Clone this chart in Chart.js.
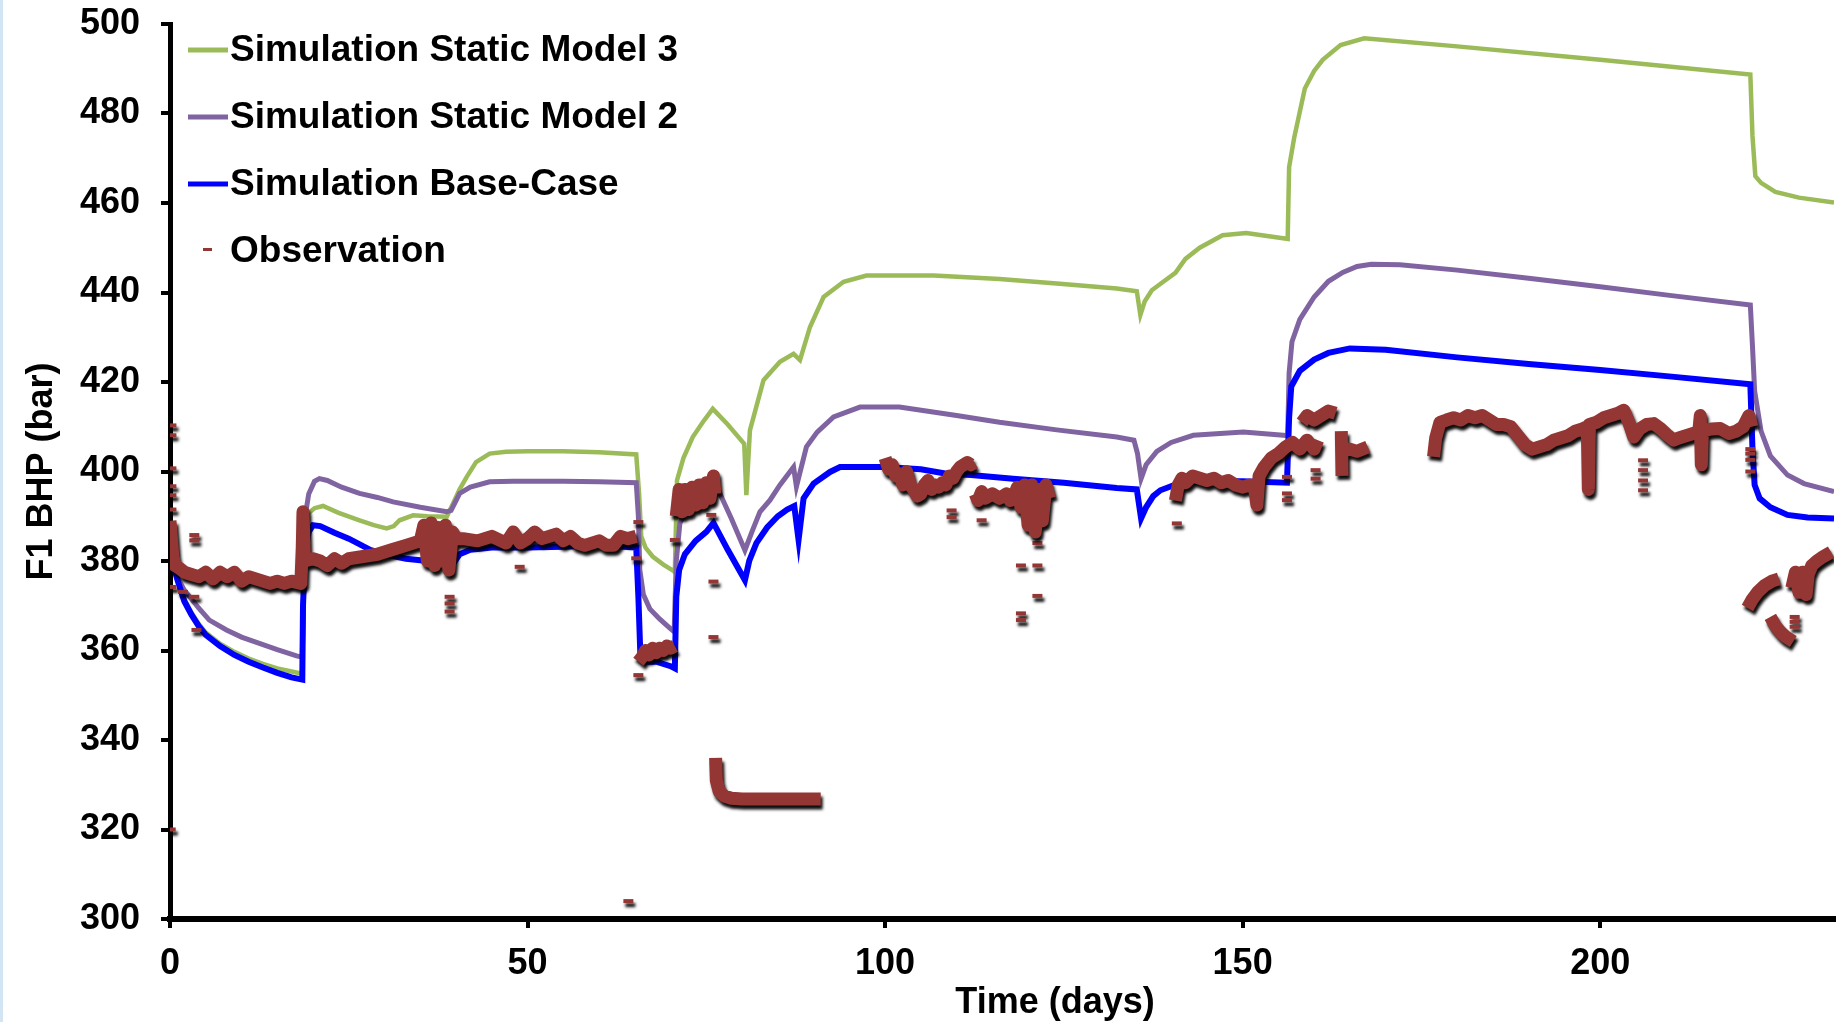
<!DOCTYPE html>
<html>
<head>
<meta charset="utf-8">
<title>F1 BHP</title>
<script src="https://cdn.jsdelivr.net/npm/chart.js@4.4.1/dist/chart.umd.min.js"></script>
<style>
    html, body { margin: 0; padding: 0; background: #fff; }
    #wrap { position: relative; width: 1843px; height: 1022px; }
    #bhpChart { display: block; }
    #edge { position: absolute; left: 0; top: 0; width: 3px; height: 1022px; background: #d3e4f5; }
</style>
</head>
<body>
<div id="wrap">
    <canvas id="bhpChart" width="1843" height="1022"></canvas>
    <div id="edge"></div>
</div>
<script>
// Axis ticks
const xTicks = [0, 50, 100, 150, 200];
const yTicks = [300, 320, 340, 360, 380, 400, 420, 440, 460, 480, 500];

// [day, bar]
const model3 = [[0,383],[0.5,379.5],[1,376.5],[2,371.5],[3,368.5],[4,366],[5,364],[7,361.5],[9,359.7],[11,358.2],[13,357],[15,356],[17,355.3],[18.5,354.8],
    [18.8,385],[19.3,390.6],[20.2,391.8],[21.4,392.3],[23.5,390.8],[26.5,389.1],[28.5,388],[30.3,387.3],[31.3,387.8],[32.1,389.1],[34,390.2],[36,390],[38.7,389.9],
    [39.6,392.9],[40.5,396],[41.5,398.8],[42.8,402.1],[44.7,404],[47,404.4],[50,404.5],[55,404.5],[60,404.3],[65.2,403.8],
    [65.6,395],[65.9,385.5],[66.5,383],[67.5,381],[69,379.2],[70.4,377.8],[70.6,377.5],
    [70.9,398],[71.8,403],[73.1,407.7],[74.5,411],[75.9,414],[78,410.5],[80.3,406.2],[80.6,394.7],[81.1,409.2],[83,420.4],[85.3,424.5],[87.2,426.3],[88.1,424.9],
    [89.5,432.3],[91.4,439],[94.2,442.4],[97.4,443.8],[106.8,443.8],[116,443],[124,442],[132.4,440.9],[135.2,440.3],[135.7,435],[136.3,438],[137.3,440.5],
    [139,442.5],[140.6,444.4],[142,447.5],[144,450],[147.2,452.8],[150.5,453.3],[155.4,452.2],[156.3,452],
    [156.5,468],[157.2,474.5],[158.7,485.6],[160,489.5],[161.2,492],[163.7,495.3],[167,496.8],[180,495],[200,492],[221,488.7],
    [221.3,475],[221.7,466],[222.5,464.5],[224.5,462.5],[227.8,461.2],[232.7,460.1]];

const model2 = [[0,383],[0.5,379.5],[1,376.5],[2,373.5],[3,371.5],[4,369.5],[5.5,366.8],[7.9,364.6],[10,363],[12.5,361.6],[15,360.2],[17.7,358.8],[18.5,358.5],
    [18.7,375],[18.9,390],[19.4,395],[20.2,397.8],[20.9,398.4],[22,398],[24,396.5],[26.5,395.1],[29,394.2],[31.2,393.2],[35,392],[38.7,391],
    [39.3,391.3],[40,393.5],[40.5,395.1],[42,396.5],[44.7,397.7],[48,397.8],[55,397.8],[60,397.7],[65.2,397.5],
    [65.5,390],[65.7,378],[66.2,372.5],[67.1,369.3],[68.5,367],[69.9,365],[70.5,364.2],
    [70.8,380],[71.3,388.4],[72.5,392.5],[74.5,395.5],[76.4,396.8],[78.5,389.5],[80.4,382.4],[81.5,387],[82.5,391],[83.9,393.6],[85.3,397],[87.2,401],[87.6,396.6],[89,405.5],
    [90.5,408.8],[92.8,412.2],[96.5,414.4],[102,414.4],[110,412.5],[116,411],[124,409.3],[132.4,407.7],[134.8,407],
    [135.3,404],[135.8,398.4],[136.5,401.5],[138,404.5],[140,406.5],[143.1,408.1],[150.1,408.8],[155.7,408.1],[156.3,408],
    [156.5,422],[156.9,429],[158,434],[160,439],[162,442.5],[164,444.5],[166,445.8],[168,446.3],[172,446.2],[180,445],[190,443.2],[200,441.3],[210,439.3],[221,437.2],
    [221.3,428],[221.6,418],[222.5,409],[223.8,403.5],[226.2,399.2],[228.5,397.3],[232.7,395.5]];

const baseCase = [[0,383],[0.5,379],[1,376],[2,371],[3,368],[4,365.5],[5,363.5],[7,361],[9,359],[11,357.5],[13,356.2],[15,355],[17,354],[18.5,353.5],
    [18.6,370],[18.9,382],[19.4,386.5],[20,388],[21,387.8],[23,386.3],[25,385],[28,382.5],[30,381.5],[33,380.5],[36,380],[39,379],
    [39.5,379.2],[40.5,381.5],[42,382.5],[45,383],[50,383],[55,383.2],[60,383.5],[65.2,383],
    [65.5,372],[65.8,358],[66.5,357.5],[68,357.5],[70,356.5],[70.6,356],
    [70.8,372],[71.2,378],[72,381.5],[73.5,384.5],[75,386.5],[76,388.5],[78,382.5],[80.4,375.7],[81,380],[82,384],[83.5,387.5],[85,390],[86.3,391.5],[87.3,392.3],[87.9,384.7],[88.6,394],
    [90,397.3],[92.3,399.9],[93.7,401],[100,401],[105,400.5],[108.6,399.5],[112,399.2],[117.9,398.4],[125,397.5],[132.4,396.3],[135.2,396],
    [135.8,389.5],[136.5,392],[137.5,394.5],[138.5,395.8],[141.3,397.5],[145,397.8],[150,397.8],[156.2,397.5],
    [156.5,412],[156.8,419],[158,422.5],[160,425],[162,426.5],[165,427.5],[170,427.2],[180,425.5],[190,424],[200,422.7],[210,421.2],[221,419.5],
    [221.3,405],[221.6,397],[222.3,394],[223.8,392],[226.2,390.3],[229,389.7],[232.7,389.5]];

// dense observation runs; [day, null] breaks a run
const obsRuns = [[0,389],[0.2,385],[0.4,381],[0.7,379],[1.2,378.5],[2,377.5],[3,377],[4,376.5],[5,377.5],[6,376],[7,377.5],[8,376.5],[9,377.5],[10,375.5],[11,376.5],[12,376],[13,375.5],[14,375],[15,375.5],[16,375],[17,375.5],[18.3,375],
    [18.5,383],[18.6,391],[18.8,380],[20,380.5],[21,380],[22,379],[23,380.5],[24,379.5],[25,380.5],[27,381],[29,381.5],[31,382.5],[33,383.5],[35,384.5],
    [35.5,388],[36,380],[36.5,388.5],[37,379],[37.5,387.5],[38,380],[38.5,388],[39,378],[39.5,386.5],[40,385],[41,385],[43,384.5],[45,385.5],[47,384],[48,386.5],[49,384],[50,385],
    [51,386.5],[52,385],[54,386],[55,384.5],[56,385.5],[57,384],[58,383.5],[59,384],[60,384.5],[61,383.5],[62,383.5],[63,385.5],[64,385],[65.2,385.5],
    [65.3,null],
    [65.5,357.5],[66,358.5],[66.5,360],[67,359],[67.5,360.5],[68,359.5],[68.5,360.5],[69,360],[69.5,361],[70,360.5],[70.6,361],
    [70.7,null],
    [70.8,390],[71.2,396],[71.6,391],[72,396],[72.5,391.5],[73,396.5],[73.5,392.5],[74,397],[74.5,393],[75,397.5],[75.5,394],[76,399],[76.2,395],
    [76.25,null],
    [76.3,336],[76.4,331],[76.8,328.5],[77.5,327.5],[78.5,327],[80,326.8],[85,326.8],[91,326.8],
    [95,null],
    [100,403],[100.5,400.5],[101,401.5],[101.5,399],[102,399.5],[102.5,397],[103,400],[103.5,397],[104,396],[104.5,394.5],[105,395],[105.5,397],[106,398],[106.5,396],[107,397],
    [107.5,396.5],[108,397.5],[108.5,397],[109,399],[109.5,398.5],[110,400],[110.5,401],[111,401.5],[111.5,402],[112,401.5],[112.5,402],
    [112.55,null],
    [112.6,395],[113,393.5],[113.5,395.5],[114,394],[115,395],[116,394],[117,395],[117.5,393.5],[118,394.5],[118.5,396.5],[119,392],[119.5,397],[120,388],[120.5,397],[121,386.5],[121.5,396],[122,389],[122.5,397],[123,394],
    [130,null],
    [140.6,393.5],[141,397],[141.5,398.5],[142,397.5],[143,399],[144,398.5],[145,398],[146,398.5],[147,397.5],[148,398],[149,397],[150,396.5],[151,397],[151.7,396],[152,392.5],[152.3,399],
    [153,401],[154,403],[155,404],[156,405.5],[157,406.5],[158,405],[159,407],[160,405],[160.5,407],
    [160.6,null],
    [158.3,411],[159,412.5],[160,411.5],[161,412.5],[162,413.5],[163,413],
    [163.1,null],
    [163.8,409],[163.9,399],
    [163.95,null],
    [163.5,404.5],[165,405],[166,404.5],[167.5,405.5],
    [170,null],
    [176.7,403.3],[177,407.5],[177.6,411],[178.5,411.5],[179.5,412],[180.5,411.5],[181.5,412.5],[182.5,412],[183.5,412.5],[184.5,411.5],[185.5,410.5],[186.5,410.5],[187.5,410],[188.5,408],
    [189.5,406],[190.5,405],[191.5,405.5],[192.5,406],[193.5,407],[194.5,407.5],[195.5,408],[196.5,409],[197.5,409.5],[198.2,410],[198.35,396],[198.5,410.5],[199.5,411],[200.5,412],
    [201.5,412.5],[202.5,413],[203.3,413.7],[204,411],[204.7,407.7],[205.5,409.5],[206.5,410.5],[207.5,410.7],[208.5,409.5],[209.5,408],[210.3,407],[211,407.5],[212,408],[213,408.5],
    [213.8,409],[214,412.5],[214.15,401.5],[214.3,409],[215.5,409.5],[216.8,409.6],[218,408.5],[219,409],[220,410],[220.8,412.5],[221.2,410],
    [221.3,null],
    [220.6,369.5],[221.3,371.5],[222,373],[223,374.5],[224,375.5],[225,376],
    [225.1,null],
    [223.8,367.5],[224.5,365.5],[225.3,364],[226,363],[227,362],
    [227.1,null],
    [226.8,374],[227.3,377.5],[227.8,373],[228.3,377.5],[228.8,372.5],[229.1,377],[229.6,379],[230.3,380],[231.2,381],[232.3,382]];

// single scattered observation readings
const obsIsolated = [[0.2,410.3],[0.2,408.1],[0.2,400.7],[0.2,396.7],[0.2,394.7],[0.2,391.5],[0.2,374.2],[1.8,373.1],[3.4,385.8],[3.4,384.6],[3.4,372],[3.7,364.6],[0.1,320],
    [39.1,372],[39.1,370.5],[39.1,368.7],[48.9,378.7],[65.5,388.7],[65.2,380.6],[65.5,354.5],[64.1,304],[70.6,384.7],[75.7,390.3],[76,375.4],[76,363],
    [109.3,391.3],[109.3,389.8],[113.5,389.1],[119,379],[119,368.3],[119,366.8],[121.3,384],[121.3,379],[121.3,372.2],[140.8,388.4],
    [156.2,398.8],[156.2,395.1],[156.2,393.6],[160.2,400.3],[160.2,398.4],[206,402.5],[206,400.3],[206,398],[206,395.8],
    [221,405],[221,404],[221,402.6],[221,400],[227.2,367.5],[227.2,366.4],[227.2,365.3]];

const OBS_COLOR = '#943634';
const FONT = '"Liberation Sans", Arial, sans-serif';

function toPoints(pairs) {
    return pairs.map(p => ({ x: p[0], y: p[1] }));
}

// Shadow under observation marks
const obsShadow = {
    id: 'obsShadow',
    beforeDatasetDraw(chart, args) {
        if (!chart.data.datasets[args.index].shadow) return;
        const ctx = chart.ctx;
        ctx.save();
        ctx.shadowColor = 'rgba(0,0,0,0.95)';
        ctx.shadowOffsetX = 2;
        ctx.shadowOffsetY = 4;
        ctx.shadowBlur = 3;
    },
    afterDatasetDraw(chart, args) {
        if (chart.data.datasets[args.index].shadow) chart.ctx.restore();
    }
};

// Legend inside the plot (top left) and the x axis title
const insideLegend = {
    id: 'insideLegend',
    afterDraw(chart) {
        const ctx = chart.ctx;
        const area = chart.chartArea;
        const rows = [4, 3, 2, 0];
        ctx.save();
        ctx.font = 'bold 37px ' + FONT;
        ctx.textBaseline = 'middle';
        ctx.textAlign = 'left';
        rows.forEach((idx, row) => {
            const ds = chart.data.datasets[idx];
            const y = area.top + 26 + row * 67;
            if (ds.showLine && !ds.shadow) {
                ctx.strokeStyle = ds.borderColor;
                ctx.lineWidth = 5;
                ctx.beginPath();
                ctx.moveTo(area.left + 18, y);
                ctx.lineTo(area.left + 58, y);
                ctx.stroke();
            } else {
                ctx.fillStyle = OBS_COLOR;
                ctx.fillRect(area.left + 33, y - 3, 9, 3);
            }
            ctx.fillStyle = '#000';
            ctx.fillText(ds.label, area.left + 60, y + 1);
        });
        ctx.font = 'bold 36px ' + FONT;
        ctx.textAlign = 'center';
        ctx.fillText('Time (days)', 1055, 1003);
        ctx.restore();
    }
};

function initializeChart() {
    Chart.defaults.color = '#000';
    Chart.defaults.font.family = FONT;

    const ctx = document.getElementById('bhpChart');
    new Chart(ctx, {
        type: 'scatter',
        data: {
            datasets: [
                {
                    label: 'Observation',
                    data: toPoints(obsRuns),
                    showLine: true,
                    spanGaps: false,
                    borderColor: OBS_COLOR,
                    borderWidth: 13,
                    borderJoinStyle: 'round',
                    pointRadius: 0,
                    shadow: true,
                    order: 0
                },
                {
                    label: 'Observation (single)',
                    data: toPoints(obsIsolated),
                    showLine: false,
                    pointStyle: 'line',
                    pointRadius: 5,
                    pointBorderWidth: 4,
                    borderColor: OBS_COLOR,
                    backgroundColor: OBS_COLOR,
                    shadow: true,
                    order: 0
                },
                {
                    label: 'Simulation Base-Case',
                    data: toPoints(baseCase),
                    showLine: true,
                    borderColor: '#0000FF',
                    borderWidth: 6,
                    pointRadius: 0,
                    order: 1
                },
                {
                    label: 'Simulation Static Model 2',
                    data: toPoints(model2),
                    showLine: true,
                    borderColor: '#8064A2',
                    borderWidth: 5,
                    pointRadius: 0,
                    order: 2
                },
                {
                    label: 'Simulation Static Model 3',
                    data: toPoints(model3),
                    showLine: true,
                    borderColor: '#9BBB59',
                    borderWidth: 4.5,
                    pointRadius: 0,
                    order: 3
                }
            ]
        },
        options: {
            responsive: false,
            animation: false,
            devicePixelRatio: 1,
            layout: { padding: { top: 24, right: 9, left: 0, bottom: 0 } },
            plugins: {
                legend: { display: false },
                tooltip: { enabled: false }
            },
            scales: {
                x: {
                    type: 'linear',
                    min: 0,
                    max: 232.7,
                    afterBuildTicks: (scale) => { scale.ticks = xTicks.map(v => ({ value: v })); },
                    afterFit: (scale) => { scale.height = 103; scale.paddingRight = 0; },
                    border: { display: true, color: '#000', width: 6 },
                    grid: { drawOnChartArea: false, drawTicks: true, tickLength: 9, lineWidth: 4, color: '#000' },
                    ticks: { padding: 14, font: { size: 36, weight: 'bold' }, color: '#000' }
                },
                y: {
                    type: 'linear',
                    min: 300,
                    max: 500,
                    afterBuildTicks: (scale) => { scale.ticks = yTicks.map(v => ({ value: v })); },
                    afterFit: (scale) => { scale.width = 170; scale.paddingTop = 0; scale.paddingBottom = 0; },
                    border: { display: true, color: '#000', width: 5 },
                    grid: { drawOnChartArea: false, drawTicks: true, tickLength: 9, lineWidth: 4, color: '#000' },
                    ticks: { padding: 21, font: { size: 36, weight: 'bold' }, color: '#000' },
                    title: {
                        display: true,
                        text: 'F1 BHP (bar)',
                        font: { size: 36, weight: 'bold', lineHeight: 1 },
                        padding: { top: 24, bottom: 0 },
                        color: '#000'
                    }
                }
            }
        },
        plugins: [obsShadow, insideLegend]
    });
}

document.addEventListener('DOMContentLoaded', initializeChart);
</script>
</body>
</html>
